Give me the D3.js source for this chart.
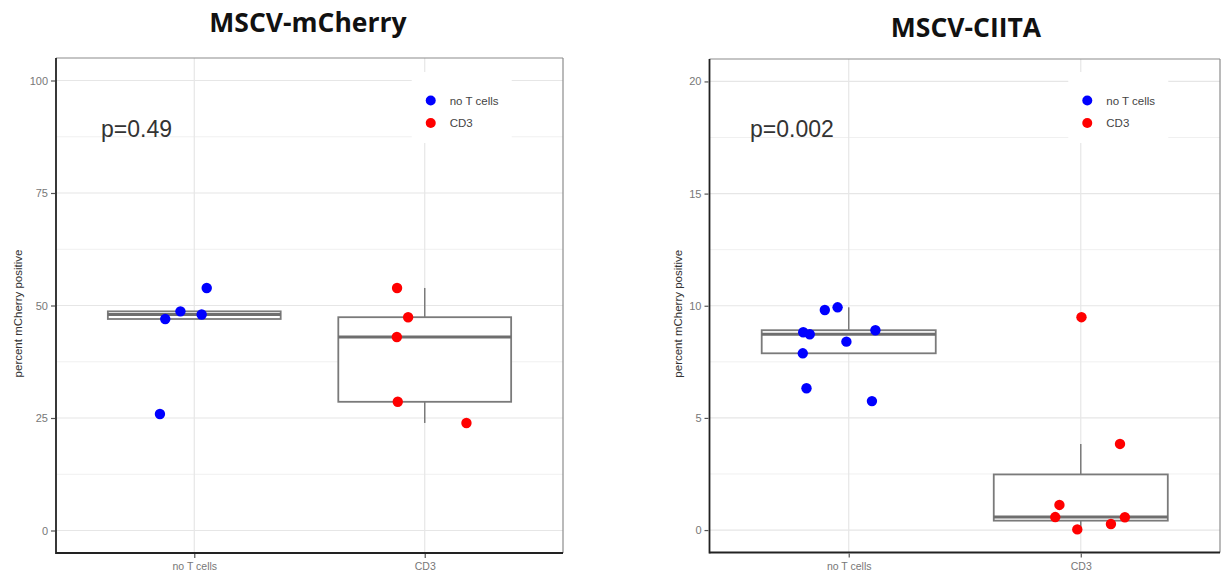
<!DOCTYPE html>
<html>
<head>
<meta charset="utf-8">
<script src="https://cdn.jsdelivr.net/npm/d3@7"></script>
<style>
  html, body { margin: 0; padding: 0; background: #fff; }
  svg { display: block; }
</style>
</head>
<body>
<svg id="chart" width="1221" height="577"></svg>
<script>
// ---------------- data ----------------
const categories = ["no T cells", "CD3"];
const legendLabels = ["no T cells", "CD3"];
const groupColors = ["#0000ff", "#ff0000"];
const yAxisLabel = "percent mCherry positive";

const titleA = "MSCV-mCherry";
const pValueA = "p=0.49";
const ticksA = [0, 25, 50, 75, 100];
const minorTicksA = [12.5, 37.5, 62.5, 87.5];
const noTcellsA = [53.9, 48.7, 47.0, 48.0, 25.9];
const noTcellsJitterA = [0.054, -0.06, -0.126, 0.032, -0.149];
const cd3A = [53.9, 47.4, 43.0, 28.6, 23.9];
const cd3JitterA = [-0.12, -0.072, -0.121, -0.117, 0.181];

const titleB = "MSCV-CIITA";
const pValueB = "p=0.002";
const ticksB = [0, 5, 10, 15, 20];
const minorTicksB = [2.5, 7.5, 12.5, 17.5];
const noTcellsB = [9.81, 9.93, 8.82, 8.73, 8.91, 8.40, 7.88, 6.32, 5.75];
const noTcellsJitterB = [-0.103, -0.048, -0.196, -0.168, 0.115, -0.01, -0.198, -0.182, 0.1];
const cd3B = [9.49, 3.84, 1.12, 0.58, 0.57, 0.27, 0.03];
const cd3JitterB = [0.003, 0.169, -0.092, -0.11, 0.19, 0.13, -0.015];

// ---------------- drawing ----------------
const svg = d3.select("#chart");

function boxStats(vals) {
  const s = vals.slice().sort(d3.ascending);
  const q1 = d3.quantile(s, 0.25), med = d3.quantile(s, 0.5), q3 = d3.quantile(s, 0.75);
  const iqr = q3 - q1;
  const lo = d3.min(s.filter(v => v >= q1 - 1.5 * iqr));
  const hi = d3.max(s.filter(v => v <= q3 + 1.5 * iqr));
  return {q1, med, q3, lo, hi};
}

function panel(cfg) {
  const g = svg.append("g");
  const x = d3.scalePoint().domain(categories).range([cfg.left, cfg.right]).padding(0.6);
  const step = x.step();
  const y = d3.scaleLinear().domain(cfg.domain).range([cfg.bottom, cfg.top]);

  // grid
  g.selectAll(".gmin").data(cfg.minor).join("line")
    .attr("x1", cfg.left).attr("x2", cfg.right)
    .attr("y1", d => y(d)).attr("y2", d => y(d))
    .attr("stroke", "#f0f0f0").attr("stroke-width", 1);
  g.selectAll(".gmaj").data(cfg.ticks).join("line")
    .attr("x1", cfg.left).attr("x2", cfg.right)
    .attr("y1", d => y(d)).attr("y2", d => y(d))
    .attr("stroke", "#e6e6e6").attr("stroke-width", 1.2);
  g.selectAll(".gx").data(categories).join("line")
    .attr("x1", d => x(d)).attr("x2", d => x(d))
    .attr("y1", cfg.top).attr("y2", cfg.bottom)
    .attr("stroke", "#e6e6e6").attr("stroke-width", 1.2);

  // legend background (inset)
  const lgX = x(categories[1]) + cfg.legendDx;
  g.append("rect").attr("x", lgX - 19).attr("y", 72).attr("width", 100).attr("height", 71)
    .attr("fill", "#fff");

  // border top / right
  g.append("line").attr("x1", cfg.left).attr("x2", cfg.right).attr("y1", cfg.top).attr("y2", cfg.top)
    .attr("stroke", "#8c8c8c").attr("stroke-width", 1.2);
  g.append("line").attr("x1", cfg.right).attr("x2", cfg.right).attr("y1", cfg.top).attr("y2", cfg.bottom)
    .attr("stroke", "#8c8c8c").attr("stroke-width", 1.2);

  // boxplots
  const groups = [cfg.noT, cfg.cd3];
  groups.forEach((vals, i) => {
    const st = boxStats(vals);
    const cx = x(categories[i]);
    const hw = step * 0.375;
    const bg = g.append("g");
    bg.append("line").attr("x1", cx).attr("x2", cx).attr("y1", y(st.q3)).attr("y2", y(st.hi))
      .attr("stroke", "#7a7a7a").attr("stroke-width", 1.5);
    bg.append("line").attr("x1", cx).attr("x2", cx).attr("y1", y(st.q1)).attr("y2", y(st.lo))
      .attr("stroke", "#7a7a7a").attr("stroke-width", 1.5);
    bg.append("rect").attr("x", cx - hw).attr("width", 2 * hw)
      .attr("y", y(st.q3)).attr("height", Math.max(0, y(st.q1) - y(st.q3)))
      .attr("fill", "#fff").attr("stroke", "#7a7a7a").attr("stroke-width", 1.8);
    bg.append("line").attr("x1", cx - hw).attr("x2", cx + hw).attr("y1", y(st.med)).attr("y2", y(st.med))
      .attr("stroke", "#6e6e6e").attr("stroke-width", 3);
  });

  // points
  [[cfg.noT, cfg.noTJ], [cfg.cd3, cfg.cd3J]].forEach(([vals, jit], i) => {
    g.selectAll(".pt" + i).data(vals).join("circle")
      .attr("cx", (d, k) => x(categories[i]) + jit[k] * step)
      .attr("cy", d => y(d))
      .attr("r", 5.2)
      .attr("fill", groupColors[i]);
  });

  // axes lines (left and bottom, dark)
  g.append("line").attr("x1", cfg.left).attr("x2", cfg.left).attr("y1", cfg.top).attr("y2", cfg.bottom + 1)
    .attr("stroke", "#222").attr("stroke-width", 1.8);
  g.append("line").attr("x1", cfg.left).attr("x2", cfg.right).attr("y1", cfg.bottom).attr("y2", cfg.bottom)
    .attr("stroke", "#222").attr("stroke-width", 1.8);

  // y axis
  const ya = d3.axisLeft(y).tickValues(cfg.ticks).tickSize(4).tickPadding(3);
  const yg = g.append("g").attr("transform", `translate(${cfg.left - 1},0)`).call(ya);
  yg.select(".domain").remove();
  yg.selectAll(".tick line").attr("stroke", "#555").attr("stroke-width", 1.2);
  yg.selectAll(".tick text").attr("fill", "#777").attr("font-size", 11)
    .attr("font-family", "Liberation Sans, Arial, sans-serif");

  // x axis
  const xa = d3.axisBottom(x).tickSize(4).tickPadding(5);
  const xg = g.append("g").attr("transform", `translate(0,${cfg.bottom + 1})`).call(xa);
  xg.select(".domain").remove();
  xg.selectAll(".tick line").attr("stroke", "#555").attr("stroke-width", 1.2);
  xg.selectAll(".tick text").attr("fill", "#777").attr("font-size", 10.5)
    .attr("font-family", "Liberation Sans, Arial, sans-serif");

  // y label
  g.append("text")
    .attr("transform", `translate(${cfg.ylabX},${(cfg.top + cfg.bottom) / 2 + 8}) rotate(-90)`)
    .attr("text-anchor", "middle").attr("dominant-baseline", "central")
    .attr("font-family", "Liberation Sans, Arial, sans-serif").attr("font-size", 11.5)
    .attr("fill", "#333").text(yAxisLabel);

  // p-value
  g.append("text").attr("x", cfg.pX).attr("y", 137)
    .attr("font-family", "Liberation Sans, Arial, sans-serif").attr("font-size", 23)
    .attr("fill", "#333").text(cfg.pText);

  // legend
  legendLabels.forEach((lab, i) => {
    const ly = 100.5 + i * 22.5;
    g.append("circle").attr("cx", lgX).attr("cy", ly).attr("r", 5).attr("fill", groupColors[i]);
    g.append("text").attr("x", lgX + 19).attr("y", ly).attr("dominant-baseline", "central")
      .attr("font-family", "Liberation Sans, Arial, sans-serif").attr("font-size", 11.5)
      .attr("fill", "#444").text(lab);
  });

  // title
  g.append("text").attr("x", cfg.titleX).attr("y", cfg.titleY).attr("text-anchor", "middle")
    .attr("font-family", "Open Sans, sans-serif").attr("font-weight", "bold")
    .attr("font-size", cfg.titleSize).attr("fill", "#111").text(cfg.title);
}

panel({
  left: 56, right: 563, top: 58, bottom: 553, domain: [-5, 105],
  ticks: ticksA, minor: minorTicksA, noT: noTcellsA, noTJ: noTcellsJitterA, cd3: cd3A, cd3J: cd3JitterA,
  legendDx: 6, ylabX: 18, pX: 101, pText: pValueA,
  title: titleA, titleX: 308, titleY: 32, titleSize: 26.5
});
panel({
  left: 709.5, right: 1220, top: 59, bottom: 552.5, domain: [-1, 21],
  ticks: ticksB, minor: minorTicksB, noT: noTcellsB, noTJ: noTcellsJitterB, cd3: cd3B, cd3J: cd3JitterB,
  legendDx: 6.5, ylabX: 678, pX: 750, pText: pValueB,
  title: titleB, titleX: 966, titleY: 37, titleSize: 26.5
});
</script>
</body>
</html>
